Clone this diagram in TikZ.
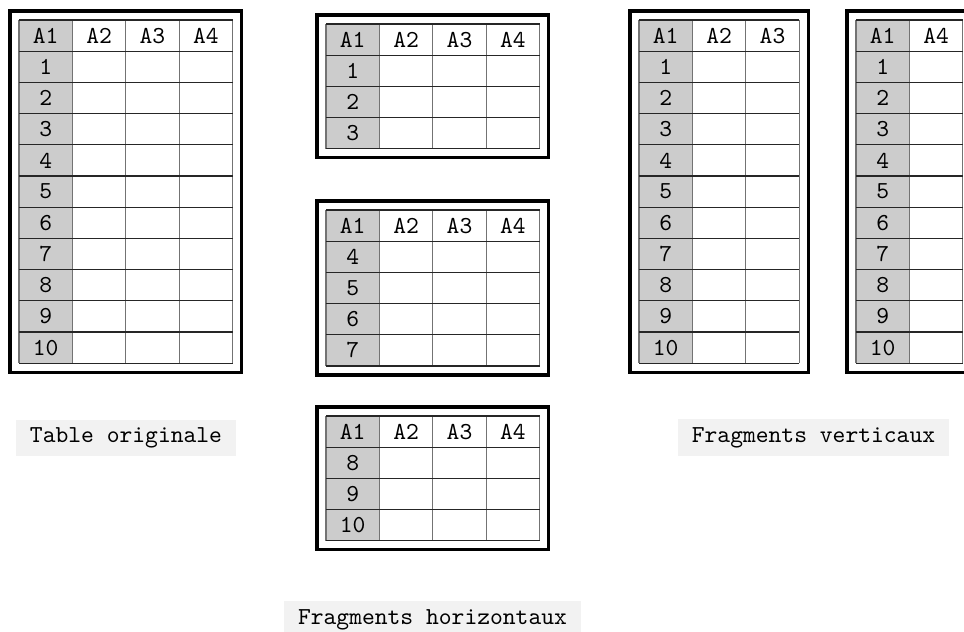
\documentclass[tikz,border=0pt]{standalone}
\usetikzlibrary{positioning}
\definecolor{keygray}{HTML}{CCCCCC}
\definecolor{tagbg}{HTML}{F2F2F2}
\tikzset{
  fragframe/.style={line width=1.25pt},
  rowrule/.style={line width=0.45pt, black!85},
  colrule/.style={line width=0.45pt, black!55},
  celltext/.style={font=\ttfamily, inner sep=0pt},
  tag/.style={fill=tagbg, font=\ttfamily, inner xsep=5.6pt, minimum height=12.7pt},
}
% \fragtable{name}{left}{top}{columns}{first row}{last row}
\newcommand{\fragtable}[6]{%
  \foreach \lab [count=\i] in {#4} {\xdef\ncols{\i}}
  \pgfmathtruncatemacro\nrows{#6-#5+1}
  \fill[keygray] ({#2},{#3}) rectangle ++(53.4,{(\nrows+1)*31.2});
  \foreach \i in {0,...,\ncols}
    \draw[colrule] ({#2+\i*53.4},{#3}) -- ++(0,{(\nrows+1)*31.2});
  \foreach \j in {0,...,\nrows}
    \draw[rowrule] ({#2},{#3+\j*31.2}) -- ++({\ncols*53.4},0);
  \draw[rowrule] ({#2},{#3+(\nrows+1)*31.2}) -- ++({\ncols*53.4},0);
  \foreach \lab [count=\i] in {#4}
    \node[celltext] (#1-h\i) at ({#2+\i*53.4-26.7},{#3+15.6}) {\lab};
  \foreach \r [count=\j] in {#5,...,#6}
    \node[celltext] (#1-r\j) at ({#2+26.7},{#3+\j*31.2+15.6}) {\r};
  \draw[fragframe] ({#2-9},{#3-9}) rectangle ({#2+\ncols*53.4+9},{#3+(\nrows+1)*31.2+9});
}

\begin{document}
\begin{tikzpicture}[x=0.41pt,y=-0.41pt]
  \useasboundingbox (0,0) rectangle (964,631);

  % table originale
  \fragtable{orig}{19}{20}{A1,A2,A3,A4}{1}{10}

  % fragments horizontaux
  \fragtable{hfa}{326}{24}{A1,A2,A3,A4}{1}{3}
  \fragtable{hfb}{326}{210}{A1,A2,A3,A4}{4}{7}
  \fragtable{hfc}{326}{416}{A1,A2,A3,A4}{8}{10}

  % fragments verticaux
  \fragtable{vfa}{639}{20}{A1,A2,A3}{1}{10}
  \fragtable{vfb}{856}{20}{A1,A4}{1}{10}

  \node[tag] (orig-tag) at (126,438) {Table originale};
  \node[tag] (hf-tag) at (432.5,619.5) {Fragments horizontaux};
  \node[tag] (vf-tag) at (813.5,437.5) {Fragments verticaux};
\end{tikzpicture}
\end{document}
